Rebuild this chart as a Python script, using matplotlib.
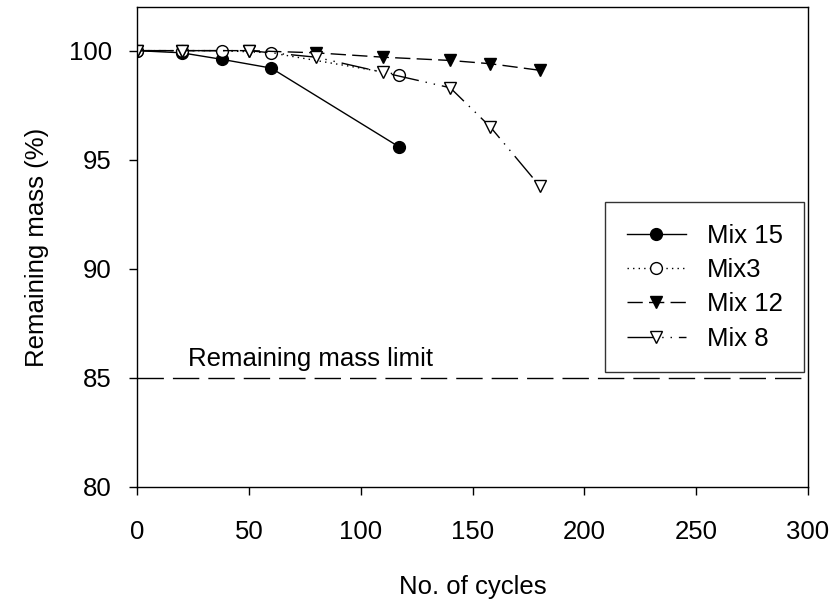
import numpy as np
import matplotlib
matplotlib.use("Agg")
from matplotlib import pyplot as plt

plt.rcParams['font.family'] = ['Liberation Sans', 'DejaVu Sans']

# data
mix15_x = [0, 20, 38, 60, 117]
mix15_y = [100.0, 99.9, 99.6, 99.2, 95.6]
mix3_x = [0, 20, 38, 60, 117]
mix3_y = [100.0, 100.0, 100.0, 99.9, 98.9]
mix12_x = [0, 20, 50, 80, 110, 140, 158, 180]
mix12_y = [100.0, 100.0, 100.0, 99.9, 99.7, 99.55, 99.4, 99.1]
mix8_x = [0, 20, 50, 80, 110, 140, 158, 180]
mix8_y = [100.0, 100.0, 100.0, 99.7, 99.0, 98.3, 96.5, 93.8]
limit = 85
limit_label = "Remaining mass limit"

fs = 18.5
fig = plt.figure(figsize=(8.35, 6.01), dpi=100)
ax = fig.add_axes([137/835, 1 - 487/601, 671/835, 480/601])

ms = 8.5
ax.plot(mix15_x, mix15_y, color='black', lw=1.0, ls='-',
        marker='o', ms=ms, mfc='black', mec='black', label='Mix 15')
ax.plot(mix3_x, mix3_y, color='black', lw=1.0, ls=(0, (1, 3)),
        marker='o', ms=ms, mfc='white', mec='black', label='Mix3')
ax.plot(mix12_x, mix12_y, color='black', lw=1.0, ls=(0, (11, 4.5)),
        marker='v', ms=ms, mfc='black', mec='black', label='Mix 12')
ax.plot(mix8_x, mix8_y, color='black', lw=1.0, ls=(0, (20, 5, 1, 5, 1, 5)),
        marker='v', ms=ms, mfc='white', mec='black', label='Mix 8')

ax.axhline(limit, color='black', lw=1.0, ls=(0, (19, 6.5)))
ax.text(23, limit + 0.55, limit_label, fontsize=fs, ha='left', va='baseline')

ax.set_xlim(0, 300)
ax.set_ylim(80, 102)
ax.set_xticks(np.arange(0, 301, 50))
ax.set_yticks(np.arange(80, 101, 5))
ax.tick_params(axis='x', direction='out', length=6, width=1, labelsize=fs, pad=18)
ax.tick_params(axis='y', direction='out', length=6, width=1, labelsize=fs, pad=12)
for sp in ax.spines.values():
    sp.set_linewidth(1.0)

ax.set_xlabel('No. of cycles', fontsize=fs, labelpad=22)
ax.set_ylabel('Remaining mass (%)', fontsize=fs, labelpad=14)

leg = ax.legend(loc='upper left', bbox_to_anchor=(0.6975, 0.594), borderaxespad=0,
                fontsize=fs, frameon=True, fancybox=False, handlelength=2.3,
                labelspacing=0.4, borderpad=0.85, handletextpad=0.8)
leg.get_frame().set_edgecolor('black')
leg.get_frame().set_linewidth(1.0)

fig.savefig('out.png', dpi=100)
